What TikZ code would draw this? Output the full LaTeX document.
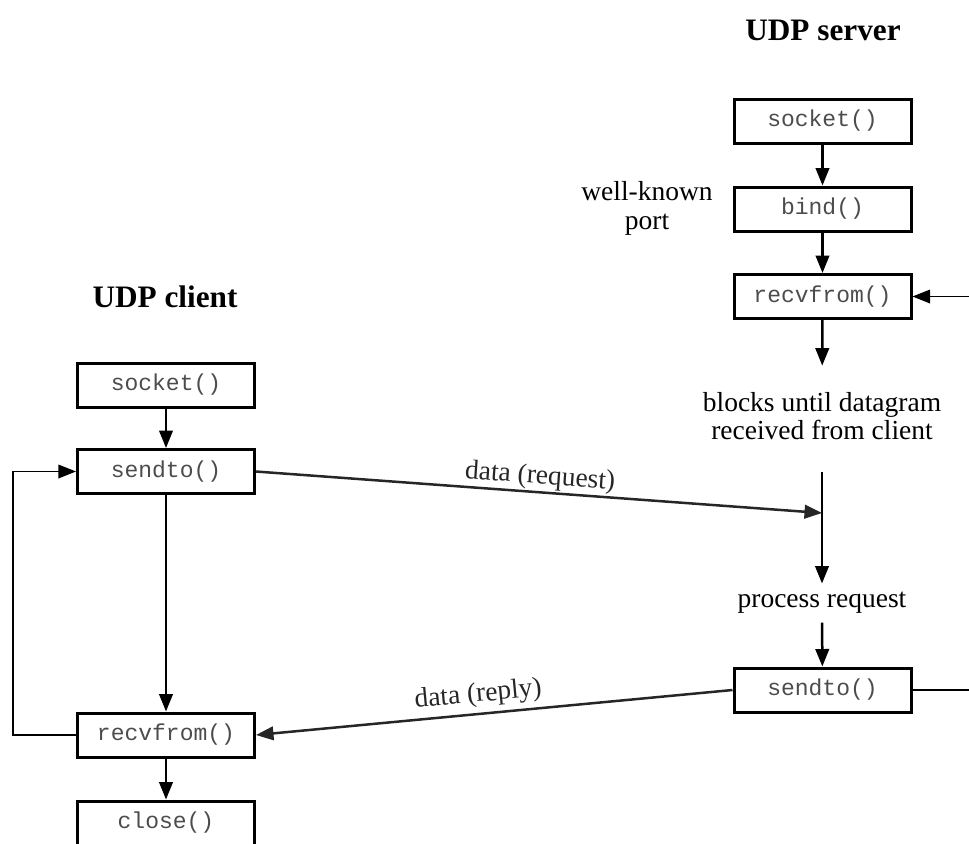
\documentclass[tikz,border=0pt]{standalone}
\usepackage{fontspec}
\setmainfont{Liberation Serif}
\setmonofont{Liberation Mono}
\usetikzlibrary{arrows.meta}

\begin{document}
\begin{tikzpicture}[
        %Environment Config
        x=0.4pt, y=-0.4pt,
        font=\fontsize{11}{11.5}\selectfont,
        FuncBox/.style={%Style for the socket calls
            draw,
            line width=1.2pt,
            minimum width=70.8pt,
            minimum height=17.6pt,
            inner sep=0pt,
            font=\ttfamily\fontsize{9.2}{10}\selectfont,
            text=black!70
        },
        Flow/.style={%Style for the program flow
            -{Triangle[length=7pt,width=5.4pt]},
            line width=1pt
        },
        Data/.style={%Style for the datagrams
            -{Triangle[length=7pt,width=5.4pt]},
            line width=1pt,
            black!85
        },
        Loop/.style={%Style for the loops
            -{Triangle[length=7pt,width=5.4pt]},
            line width=0.7pt
        },
        Title/.style={%Style for the headings
            font=\bfseries\fontsize{12.5}{14}\selectfont
        }
    ]
    \useasboundingbox (0,0) rectangle (969,843);

    %%%%%%%%%%%%%%%%%%%%%%%%%%%%%%%%%%%%%%%%%%%%%%%%%%%%%%%%%%%%%%%%%%%%%%%%%%%%
    % SERVER
    %%%%%%%%%%%%%%%%%%%%%%%%%%%%%%%%%%%%%%%%%%%%%%%%%%%%%%%%%%%%%%%%%%%%%%%%%%%%
    \node[Title] (TSRV) at (823,30) {UDP server};
    \node[FuncBox] (SSOCK) at (822.5,121) {socket()};
    \node[FuncBox] (SBIND) at (822.5,209) {bind()};
    \node[FuncBox] (SRECV) at (822.5,296.5) {recvfrom()};
    \node[align=center] (TPORT) at (647,208) {well-known\\port};
    \node[align=center] (TBLK) at (822,416) {blocks until datagram\\received from client};
    \node (TPROC) at (822,603) {process request};
    \node[FuncBox] (SSEND) at (822.5,690) {sendto()};

    \coordinate (SWAIT) at (822,472);
    \coordinate (SHIT) at (822,513);
    \coordinate (SLOOP1) at (970,690);
    \coordinate (SLOOP2) at (970,296.5);

    \draw[Flow] (SSOCK) -- (SBIND);
    \draw[Flow] (SBIND) -- (SRECV);
    \draw[Flow, shorten >=7pt] (SRECV) -- (TBLK);
    \draw[Flow] (SWAIT) -- (TPROC);
    \draw[Flow] (TPROC) -- (SSEND);
    \draw[Loop] (SSEND.east) -- (SLOOP1) -- (SLOOP2) -- (SRECV.east);

    %%%%%%%%%%%%%%%%%%%%%%%%%%%%%%%%%%%%%%%%%%%%%%%%%%%%%%%%%%%%%%%%%%%%%%%%%%%%
    % CLIENT
    %%%%%%%%%%%%%%%%%%%%%%%%%%%%%%%%%%%%%%%%%%%%%%%%%%%%%%%%%%%%%%%%%%%%%%%%%%%%
    \node[Title] (TCLI) at (165,297) {UDP client};
    \node[FuncBox] (CSOCK) at (166,385) {socket()};
    \node[FuncBox] (CSEND) at (166,471.5) {sendto()};
    \node[FuncBox] (CRECV) at (166,735) {recvfrom()};
    \node[FuncBox] (CCLOSE) at (166,823) {close()};

    \coordinate (CLOOP1) at (13,735);
    \coordinate (CLOOP2) at (13,471.5);

    \draw[Flow] (CSOCK) -- (CSEND);
    \draw[Flow] (CSEND) -- (CRECV);
    \draw[Flow] (CRECV) -- (CCLOSE);
    \draw[Loop] (CRECV.west) -- (CLOOP1) -- (CLOOP2) -- (CSEND.west);

    % datagrams
    \draw[Data] (CSEND.east) -- (SHIT) node[midway, above, sloped, inner sep=0.5pt] {data (request)};
    \draw[Data] (SSEND.west) -- (CRECV.east) node[pos=0.53, above, sloped, inner sep=2pt] {data (reply)};
\end{tikzpicture}
\end{document}
